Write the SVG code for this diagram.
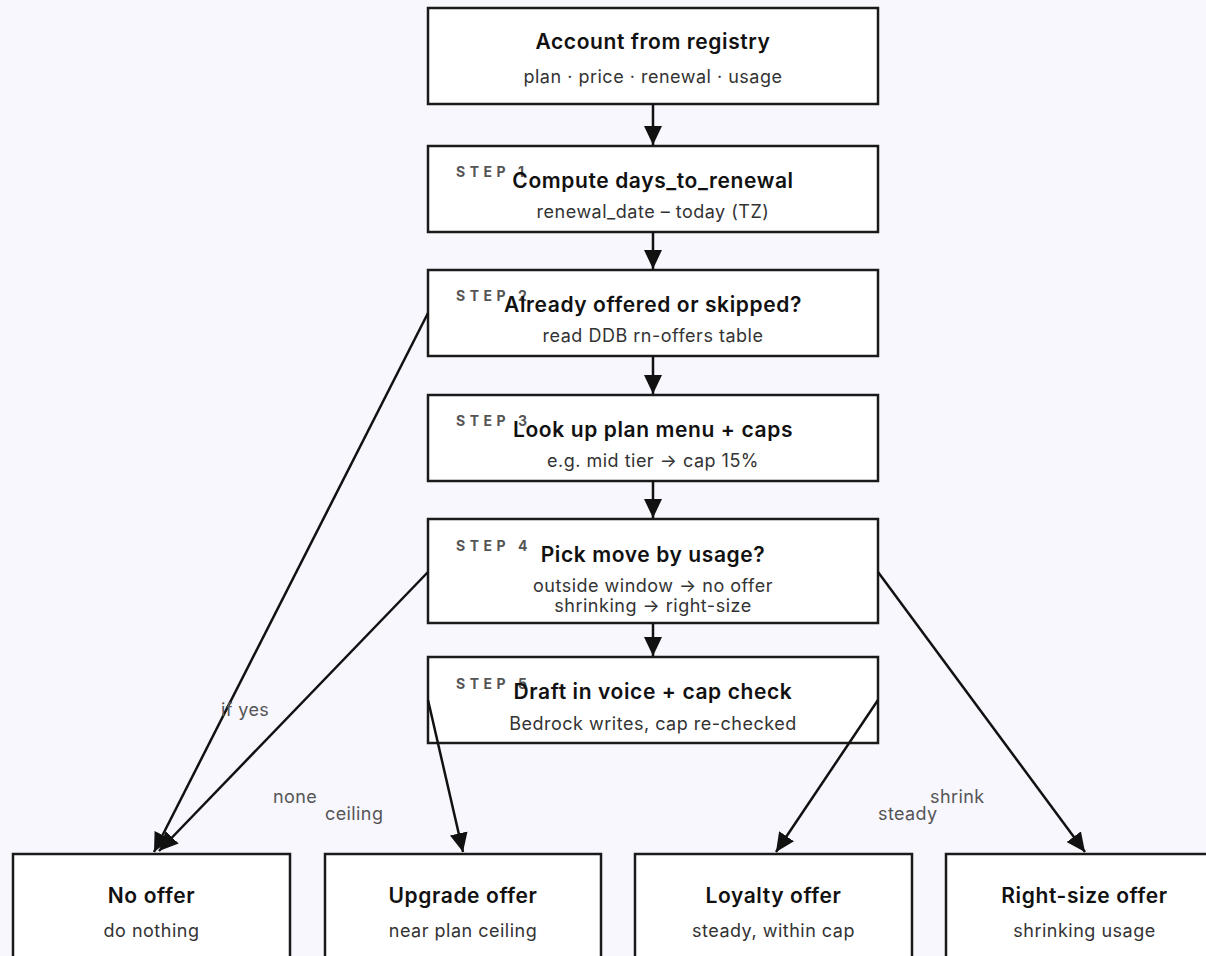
<svg xmlns="http://www.w3.org/2000/svg" width="1206" height="956" viewBox="0 0 1206 956">
<style>
.box{fill:#ffffff;stroke:#1a1a1a;stroke-width:2.5}
.t{font-family:Inter,"Liberation Sans",sans-serif;font-size:21px;font-weight:600;fill:#111111;text-anchor:middle;letter-spacing:0.6px}
.s{font-family:Inter,"Liberation Sans",sans-serif;font-size:18px;font-weight:400;fill:#333333;text-anchor:middle;letter-spacing:0.5px}
.step{font-family:Inter,"Liberation Sans",sans-serif;font-size:14px;font-weight:700;fill:#555555;letter-spacing:4.5px}
.lbl{font-family:Inter,"Liberation Sans",sans-serif;font-size:18px;font-weight:400;fill:#555555;letter-spacing:0.4px}
.edge{fill:none;stroke:#111111;stroke-width:2.5}
</style>
<defs>
<marker id="arr" markerUnits="userSpaceOnUse" markerWidth="20" markerHeight="18" refX="19" refY="9" orient="auto">
<path d="M0,0 L19,9 L0,18 z" fill="#111111"/>
</marker>
</defs>
<rect x="0" y="0" width="1206" height="956" fill="#f8f7fe"/>
<g id="account">
<rect class="box" x="428" y="8" width="450" height="96"/>
<text class="t" x="653" y="49">Account from registry</text>
<text class="s" x="653" y="83">plan · price · renewal · usage</text>
</g>
<g id="step1">
<rect class="box" x="428" y="146" width="450" height="86"/>
<text class="step" x="456" y="177">STEP 1</text>
<text class="t" x="653" y="188">Compute days_to_renewal</text>
<text class="s" x="653" y="218">renewal_date – today (TZ)</text>
</g>
<g id="step2">
<rect class="box" x="428" y="270" width="450" height="86"/>
<text class="step" x="456" y="301">STEP 2</text>
<text class="t" x="653" y="312">Already offered or skipped?</text>
<text class="s" x="653" y="342">read DDB rn-offers table</text>
</g>
<g id="step3">
<rect class="box" x="428" y="395" width="450" height="86"/>
<text class="step" x="456" y="426">STEP 3</text>
<text class="t" x="653" y="437">Look up plan menu + caps</text>
<text class="s" x="653" y="467">e.g. mid tier → cap 15%</text>
</g>
<g id="step4">
<rect class="box" x="428" y="519" width="450" height="104"/>
<text class="step" x="456" y="551">STEP 4</text>
<text class="t" x="653" y="562">Pick move by usage?</text>
<text class="s" x="653" y="592">outside window → no offer</text>
<text class="s" x="653" y="612">shrinking → right-size</text>
</g>
<g id="step5">
<rect class="box" x="428" y="657" width="450" height="86"/>
<text class="step" x="456" y="689">STEP 5</text>
<text class="t" x="653" y="699">Draft in voice + cap check</text>
<text class="s" x="653" y="730">Bedrock writes, cap re-checked</text>
</g>
<g id="nooffer">
<rect class="box" x="13" y="854" width="277" height="120"/>
<text class="t" x="151.5" y="903">No offer</text>
<text class="s" x="151.5" y="937">do nothing</text>
</g>
<g id="upgrade">
<rect class="box" x="325" y="854" width="276" height="120"/>
<text class="t" x="463" y="903">Upgrade offer</text>
<text class="s" x="463" y="937">near plan ceiling</text>
</g>
<g id="loyalty">
<rect class="box" x="635" y="854" width="277" height="120"/>
<text class="t" x="773.5" y="903">Loyalty offer</text>
<text class="s" x="773.5" y="937">steady, within cap</text>
</g>
<g id="rightsize">
<rect class="box" x="946" y="854" width="277" height="120"/>
<text class="t" x="1084.5" y="903">Right-size offer</text>
<text class="s" x="1084.5" y="937">shrinking usage</text>
</g>
<g id="connectors">
<line class="edge" x1="653" y1="104" x2="653" y2="145" marker-end="url(#arr)"/>
<line class="edge" x1="653" y1="232" x2="653" y2="269" marker-end="url(#arr)"/>
<line class="edge" x1="653" y1="356" x2="653" y2="394" marker-end="url(#arr)"/>
<line class="edge" x1="653" y1="481" x2="653" y2="518" marker-end="url(#arr)"/>
<line class="edge" x1="653" y1="623" x2="653" y2="656" marker-end="url(#arr)"/>
<line class="edge" x1="428" y1="313" x2="154" y2="852" marker-end="url(#arr)"/>
<line class="edge" x1="428" y1="572" x2="159" y2="851" marker-end="url(#arr)"/>
<line class="edge" x1="428" y1="700" x2="463" y2="852" marker-end="url(#arr)"/>
<line class="edge" x1="878" y1="700" x2="776" y2="852" marker-end="url(#arr)"/>
<line class="edge" x1="878" y1="572" x2="1085" y2="852" marker-end="url(#arr)"/>
<text class="lbl" x="221" y="716">if yes</text>
<text class="lbl" x="273" y="803">none</text>
<text class="lbl" x="325" y="820">ceiling</text>
<text class="lbl" x="930" y="803">shrink</text>
<text class="lbl" x="878" y="820">steady</text>
</g>
</svg>
